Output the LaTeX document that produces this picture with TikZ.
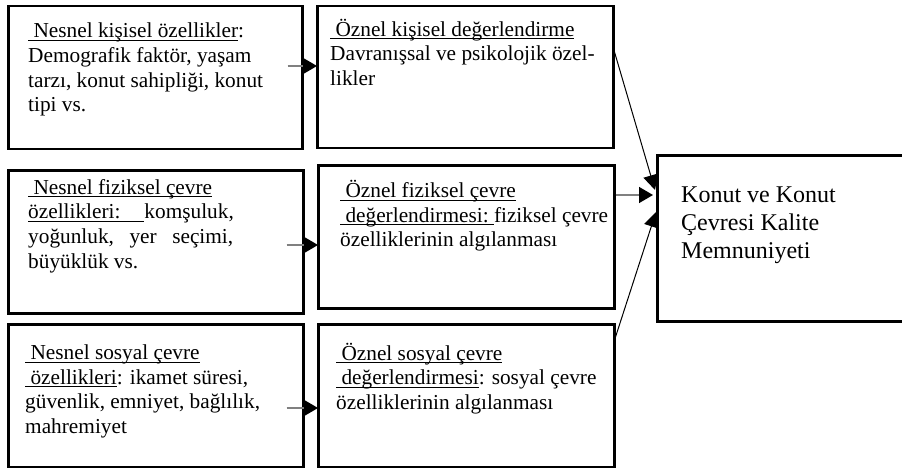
\documentclass[tikz,border=0pt]{standalone}
\usepackage{fontspec}
\setmainfont{Liberation Serif}
\usetikzlibrary{arrows.meta,calc}
\newcommand\myul[1]{\setbox0\hbox{#1}\rlap{\rule[-3pt]{\wd0}{1pt}}\box0}
\tikzset{
  box/.style={draw=black, line width=2.5pt, anchor=north west, inner sep=0pt},
  txt/.style={anchor=base west, align=left, inner sep=0pt, font=\fontsize{21.3}{24.6}\selectfont},
  bigtxt/.style={anchor=base west, align=left, inner sep=0pt, font=\fontsize{24}{28}\selectfont},
  garrow/.style={draw=gray, line width=1.5pt, -{Triangle[length=14pt,width=16pt,color=black]}},
  barrow/.style={draw=black, line width=1pt, -{Triangle[length=15pt,width=15pt]}}
}
\begin{document}
\begin{tikzpicture}[x=1pt,y=-1pt]
\useasboundingbox[fill=white] (0,0) rectangle (902,468);
% boxes
\node[box, minimum width=294pt, minimum height=143pt] (a1) at (7,5) {};
\node[box, minimum width=296pt, minimum height=142pt] (b1) at (316,5) {};
\node[box, minimum width=295pt, minimum height=143pt] (a2) at (7,169) {};
\node[box, minimum width=296pt, minimum height=143pt] (b2) at (317,164) {};
\node[box, minimum width=295pt, minimum height=143pt] (a3) at (7,323) {};
\node[box, minimum width=296pt, minimum height=143pt] (b3) at (317,323) {};
\node[box, minimum width=270pt, minimum height=166pt] (c) at (656,154) {};
% texts (anchor = baseline of the last line)
\node[txt] (t1) at (28,111.7) {\myul{\ Nesnel kişisel özellikler}:\\Demografik faktör, yaşam\\tarzı, konut sahipliği, konut\\tipi vs.};
\node[txt] (t2) at (330,85.5) {\myul{\ Öznel kişisel değerlendirme}\\Davranışsal ve psikolojik özel-\\likler};
\node[txt] (t3) at (28,268) {\myul{\ Nesnel fiziksel çevre}\\\makebox[205pt][s]{\myul{özellikleri:\hspace{24pt}}\hfill komşuluk,}\\\makebox[205pt][s]{yoğunluk,\hfill yer\hfill seçimi,}\\büyüklük vs.};
\node[txt] (t4) at (340,246.7) {\myul{\ Öznel fiziksel çevre}\\\myul{\ değerlendirmesi:\ }fiziksel çevre\\özelliklerinin algılanması};
\node[txt] (t5) at (25,433.3) {\myul{\ Nesnel sosyal çevre}\\\myul{\ özellikleri}: ikamet süresi,\\güvenlik, emniyet, bağlılık,\\mahremiyet};
\node[txt] (t6) at (336,409.3) {\myul{\ Öznel sosyal çevre}\\\myul{\ değerlendirmesi}: sosyal çevre\\özelliklerinin algılanması};
\node[bigtxt] (t7) at (681,258.3) {Konut ve Konut\\Çevresi Kalite\\Memnuniyeti};
% connectors
\draw[garrow] ($(a1.north east)+(-16,61)$) -- ($(b1.north west)+(1,61)$);
\draw[garrow] ($(a2.north east)+(-18,76)$) -- ($(b2.north west)+(1,81)$);
\draw[garrow] ($(a3.north east)+(-18,85)$) -- ($(b3.north west)+(1,85)$);
\draw[garrow] ($(b2.north east)+(0,31)$) -- ($(c.north west)+(-3,41)$);
\draw[barrow] ($(b1.north east)+(0,47)$) -- ($(c.north west)+(-1,36)$);
\draw[barrow] ($(b3.north east)+(0,14)$) -- ($(c.north west)+(0,58)$);
\end{tikzpicture}
\end{document}
